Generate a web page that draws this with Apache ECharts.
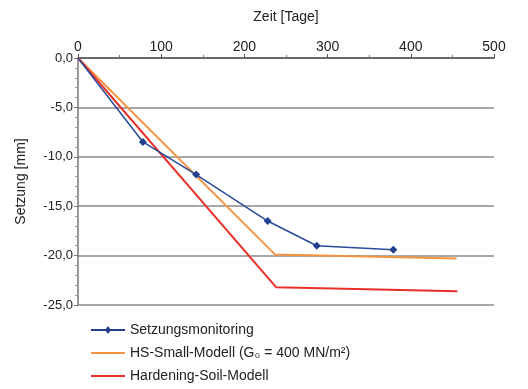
<!DOCTYPE html>
<html><head><meta charset="utf-8">
<script src="https://cdn.jsdelivr.net/npm/echarts@6/dist/echarts.min.js"></script>
<style>html,body{margin:0;padding:0;background:#fff}#c{width:528px;height:389px}</style>
</head><body><div id="c"></div>
<script>
var monitorX = [0, 78, 142, 228, 287, 379];
var monitorY = [0, -8.5, -11.8, -16.5, -19.0, -19.4];
var hsSmallX = [0, 237, 455];
var hsSmallY = [0, -19.9, -20.3];
var hsX = [0, 238, 456];
var hsY = [0, -23.2, -23.6];
var names = ['Setzungsmonitoring', 'HS-Small-Modell (G\u2080 = 400 MN/m\u00b2)', 'Hardening-Soil-Modell'];
function pairs(xs, ys){ return xs.map(function(x,i){return [x, ys[i]];}); }
var chart = echarts.init(document.getElementById('c'));
var font = 'Liberation Sans, Arial, sans-serif';
chart.setOption({
  animation: false,
  textStyle: {fontFamily: font},
  grid: {left: 78, right: 34, top: 58, bottom: 84},
  legend: {
    orient: 'vertical', left: 86, top: 318, itemGap: 9, itemWidth: 34, itemHeight: 14,
    textStyle: {fontSize: 14, color: '#222', fontFamily: font},
    data: [
      {name: names[0], icon: 'path://M0,6 L34,6 L34,8 L0,8 Z M17,3 L20,7 L17,11 L14,7 Z'},
      {name: names[1], icon: 'path://M0,6 L34,6 L34,8 L0,8 Z'},
      {name: names[2], icon: 'path://M0,6 L34,6 L34,8 L0,8 Z'}
    ]
  },
  xAxis: {
    type: 'value', position: 'top', min: 0, max: 500, interval: 100,
    name: 'Zeit [Tage]', nameLocation: 'middle', nameGap: 34,
    nameTextStyle: {fontSize: 14, color: '#222'},
    axisLine: {onZero: false, lineStyle: {color: '#555', width: 1.5}},
    axisTick: {show: true, inside: false, length: 4, lineStyle: {color: '#555'}},
    minorTick: {show: true, splitNumber: 2, length: 3, lineStyle: {color: '#777'}},
    axisLabel: {fontSize: 14, color: '#222', margin: 4},
    splitLine: {show: false}
  },
  yAxis: {
    type: 'value', min: -25, max: 0, interval: 5,
    name: 'Setzung [mm]', nameLocation: 'middle', nameGap: 50, nameRotate: 90,
    nameTextStyle: {fontSize: 14, color: '#222'},
    axisLine: {show: true, onZero: false, lineStyle: {color: '#777', width: 1.5}},
    axisTick: {show: true, length: 4, lineStyle: {color: '#777'}},
    minorTick: {show: true, splitNumber: 5, length: 3, lineStyle: {color: '#999'}},
    axisLabel: {fontSize: 13, color: '#222', margin: 5,
      formatter: function(v){ return v.toFixed(1).replace('.', ','); }},
    splitLine: {show: true, lineStyle: {color: '#8a8a8a', width: 1.5}}
  },
  series: [
    {name: names[0], type: 'line',
      data: pairs(monitorX, monitorY).map(function(p,i){ return i===0 ? {value:p, symbol:'none'} : p; }),
      symbol: 'diamond', symbolSize: 8, showAllSymbol: true,
      itemStyle: {color: '#22408f'}, lineStyle: {color: '#2a4a9a', width: 1.5}, z: 5},
    {name: names[1], type: 'line', data: pairs(hsSmallX, hsSmallY), symbol: 'none',
      itemStyle: {color: '#f59340'}, lineStyle: {color: '#f59340', width: 2}},
    {name: names[2], type: 'line', data: pairs(hsX, hsY), symbol: 'none',
      itemStyle: {color: '#e8302a'}, lineStyle: {color: '#e8302a', width: 2}}
  ]
});
</script></body></html>
